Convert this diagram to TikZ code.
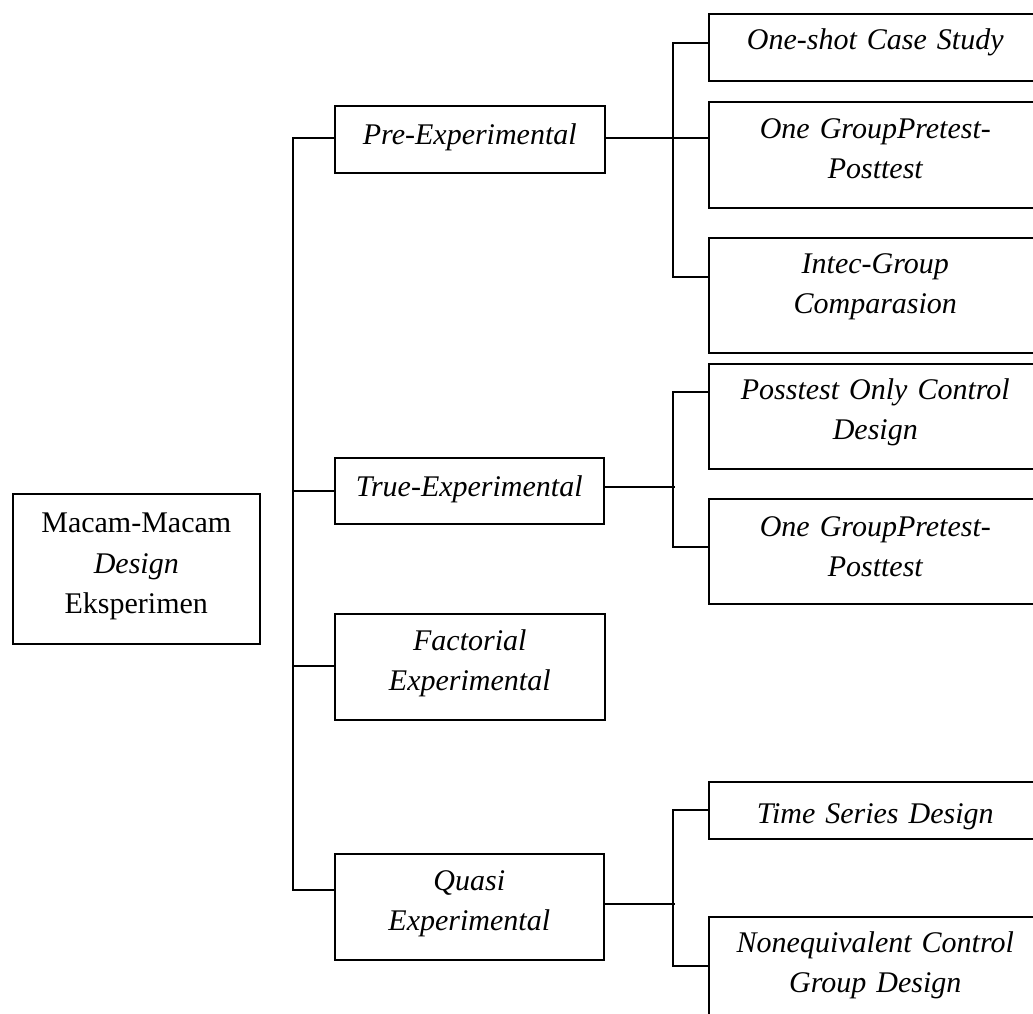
\documentclass[tikz,border=0pt]{standalone}
\usepackage{fontspec}
\setmainfont{Liberation Serif}
\begin{document}
\begin{tikzpicture}[x=1pt,y=-1pt,
  box/.style={draw=black, line width=1.6pt, inner sep=0pt, align=center,
    anchor=north west, font=\fontsize{30}{40}\selectfont\itshape},
  conn/.style={line width=1.6pt, line join=miter}]
\clip (0,0) rectangle (1033,1014);
\fill[white] (0,0) rectangle (1033,1014);
% root
\node[box, font=\fontsize{30}{40.5}\selectfont, text width=247pt, text height=39pt, text depth=111pt] (root) at (12,493)
  {Macam-Macam\\\textit{Design}\\Eksperimen};
% level 1
\node[box, text width=270pt, text height=39pt, text depth=28pt] (pre) at (334,105) {Pre-Experimental};
\node[box, text width=269pt, text height=39pt, text depth=27pt] (true) at (334,457) {True-Experimental};
\node[box, text width=270pt, text height=37pt, text depth=69pt] (fact) at (334,613) {Factorial\\Experimental};
\node[box, text width=269pt, text height=37pt, text depth=69pt] (quasi) at (334,853) {Quasi\\Experimental};
% level 2
\node[box, text width=333pt, text height=36pt, text depth=31pt] (b1) at (708,13) {One-shot Case Study};
\node[box, text width=333pt, text height=37pt, text depth=69pt] (b2) at (708,101) {One GroupPretest-\\Posttest};
\node[box, text width=333pt, text height=36pt, text depth=79pt] (b3) at (708,237) {Intec-Group\\Comparasion};
\node[box, text width=333pt, text height=36pt, text depth=69pt] (b4) at (708,363) {Posstest Only Control\\Design};
\node[box, text width=333pt, text height=38pt, text depth=67pt] (b5) at (708,498) {One GroupPretest-\\Posttest};
\node[box, text width=333pt, text height=42pt, text depth=15pt] (b6) at (708,781) {Time Series Design};
\node[box, text width=333pt, text height=36pt, text depth=78pt] (b7) at (708,916) {Nonequivalent Control\\Group Design};
% connectors
\coordinate (mt) at (293,0);
\coordinate (st) at (673,0);
\draw[conn] (pre.west |- 0,138) -- (mt |- 0,138) -- (mt |- 0,890) -- (quasi.west |- 0,890);
\draw[conn] (true.west |- 0,491) -- (mt |- 0,491);
\draw[conn] (fact.west |- 0,666) -- (mt |- 0,666);
\draw[conn] (pre.east |- 0,138) -- (b2.west |- 0,138);
\draw[conn] (b1.west |- 0,43) -- (st |- 0,43) -- (st |- 0,277) -- (b3.west |- 0,277);
\draw[conn] (true.east |- 0,487) -- ([xshift=2pt]st |- 0,487);
\draw[conn] (b4.west |- 0,392) -- (st |- 0,392) -- (st |- 0,547) -- (b5.west |- 0,547);
\draw[conn] (quasi.east |- 0,904) -- ([xshift=2pt]st |- 0,904);
\draw[conn] (b6.west |- 0,810) -- (st |- 0,810) -- (st |- 0,966) -- (b7.west |- 0,966);
\end{tikzpicture}
\end{document}
